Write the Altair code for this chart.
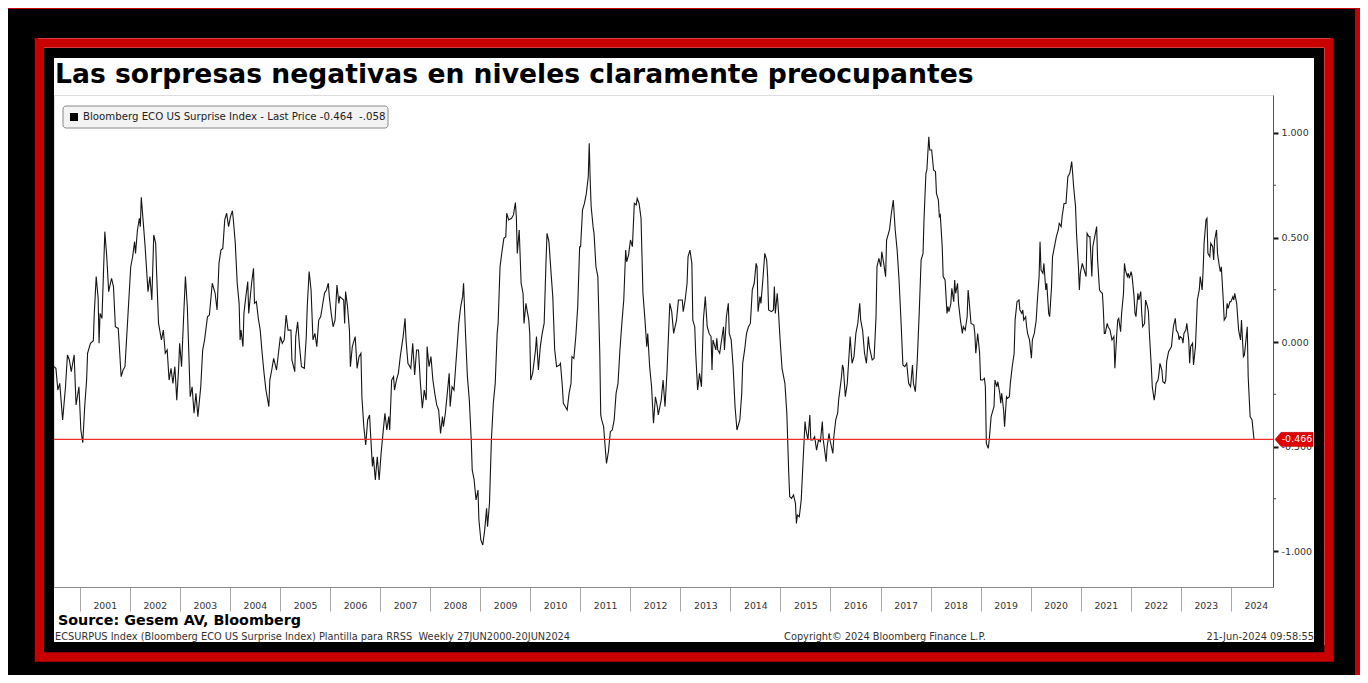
import altair as alt
import pandas as pd

# ---------------- text content ----------------
TITLE = "Las sorpresas negativas en niveles claramente preocupantes"
LEGEND = "Bloomberg ECO US Surprise Index - Last Price -0.464\u00a0\u00a0-.058"
SOURCE = "Source: Gesem AV, Bloomberg"
FOOT_LEFT = "ECSURPUS Index (Bloomberg ECO US Surprise Index) Plantilla para RRSS\u00a0\u00a0Weekly 27JUN2000-20JUN2024"
FOOT_MID = "Copyright\u00a9 2024 Bloomberg Finance L.P."
FOOT_RIGHT = "21-Jun-2024 09:58:55"

START_DATE = "2000-06-27"          # weekly series start
YEARS = list(range(2001, 2025))    # year bands on the x axis
Y_TICKS = [-1.0, -0.5, 0.0, 0.5, 1.0]
Y_MINOR = [-0.75, -0.25, 0.25, 0.75]
LAST_LEVEL = [-0.466]              # red reference line / tag

# ---------------- series: (week number since start, index value) ----------------
obs_2000_2004 = [(0,-0.118),(2,-0.126),(4,-0.230),(6,-0.198),(9,-0.373),(12,-0.214),(14,-0.062),(16,-0.086),
    (18,-0.142),(21,-0.062),(23,-0.301),(26,-0.214),(28,-0.421),(30,-0.482),(32,-0.309),(34,-0.182),(35,-0.054),
    (38,-0.006),(41,0.006),(42,0.137),(44,0.313),(46,0.209),(47,-0.006),(48,0.137),(50,0.113),(53,0.528),(55,0.408),
    (57,0.241),(60,0.305),(62,0.265),(64,0.073),(67,0.065),(70,-0.166),(72,-0.134),(74,-0.118),(77,0.121),(80,0.360),
    (82,0.408),(84,0.480),(85,0.424),(87,0.536),(89,0.592),(90,0.552),(91,0.692),(93,0.576),(95,0.456),(98,0.241),
    (100,0.313),(102,0.201),(104,0.512),(106,0.472),(107,0.329),(109,0.089),(112,0.010),(114,0.057),(116,-0.054),
    (118,-0.038),(120,-0.182),(122,-0.126),(124,-0.198),(126,-0.118),(128,-0.278),(130,-0.118),(131,-0.006),
    (133,-0.118),(135,0.105),(137,0.313),(139,0.169),(142,-0.262),(144,-0.214),(146,-0.341),(148,-0.246),
    (150,-0.357),(153,-0.214),(155,-0.038),(157,0.010),(160,0.121),(162,0.129),(165,0.281),(168,0.233),(170,0.153),
    (172,0.376),(174,0.440),(176,0.448),(178,0.584),(180,0.616),(182,0.552)]

obs_2004_2007 = [(184,0.600),(186,0.628),(187,0.584),(189,0.472),(191,0.281),(193,0.185),(194,0.010),(195,0.057),
    (197,-0.022),(198,0.137),(200,0.217),(202,0.289),(203,0.137),(205,0.233),(206,0.281),(208,0.352),(209,0.185),
    (211,0.193),(213,0.113),(215,0.057),(217,-0.054),(219,-0.150),(221,-0.230),(224,-0.309),(225,-0.182),(227,-0.134),
    (229,-0.078),(232,-0.134),(234,-0.054),(236,0.026),(238,-0.006),(240,0.010),(242,0.129),(244,0.057),(247,0.057),
    (248,-0.086),(251,-0.142),(252,0.026),(254,0.097),(256,-0.022),(258,-0.118),(261,-0.126),(263,0.026),(264,0.169),
    (266,0.337),(268,0.249),(270,0.010),(272,0.041),(274,-0.022),(276,0.105),(278,0.121),(280,0.177),(282,0.233),
    (284,0.249),(286,0.281),(287,0.217),(289,0.137),(291,0.073),(293,0.105),(295,0.273),(297,0.185),(298,0.217),
    (300,0.209),(302,0.201),(303,0.089),(304,0.241),(306,0.169),(308,0.057),(309,-0.118),(311,-0.022),(314,0.026),
    (316,-0.126),(318,-0.070),(320,-0.054),(321,-0.262),(323,-0.405),(325,-0.493),(327,-0.373),(329,-0.349),
    (330,-0.437),(332,-0.596),(333,-0.549),(335,-0.660),(337,-0.549),(339,-0.660),(341,-0.533),(343,-0.437),
    (345,-0.341),(347,-0.421),(349,-0.357),(350,-0.421),(352,-0.182),(354,-0.166),(355,-0.230),(357,-0.182),
    (359,-0.150),(361,-0.070),(364,0.026),(366,0.113)]

obs_2007_2011 = [(367,0.010),(369,-0.102),(372,-0.126),(374,-0.006),(376,-0.158),(378,-0.038),(380,-0.038),
    (382,-0.198),(384,-0.317),(386,-0.230),(388,-0.278),(389,-0.022),(391,-0.118),(393,-0.070),(395,-0.182),
    (397,-0.246),(399,-0.301),(401,-0.325),(403,-0.437),(405,-0.357),(406,-0.405),(408,-0.341),(410,-0.246),
    (412,-0.150),(413,-0.309),(415,-0.214),(417,-0.230),(420,-0.038),(422,0.089),(424,0.169),(426,0.217),(427,0.281),
    (429,0.041),(431,-0.166),(433,-0.278),(435,-0.469),(436,-0.612),(438,-0.660),(440,-0.756),(442,-0.708),
    (443,-0.852),(445,-0.947),(447,-0.971),(449,-0.900),(451,-0.796),(452,-0.884),(454,-0.772),(456,-0.469),
    (458,-0.293),(460,-0.198),(462,0.041),(463,0.089),(465,0.360),(467,0.432),(469,0.496),(471,0.504),(472,0.616),
    (474,0.584),(477,0.592),(479,0.608),(481,0.667),(482,0.600),(483,0.424),(485,0.536),(487,0.281),(489,0.233),
    (490,0.089),(492,0.185),(495,0.105),(496,0.041),(497,-0.182),(499,-0.150),(502,-0.038),(503,0.026),(505,-0.134),
    (507,-0.022),(509,0.041),(511,0.089),(513,0.392),(514,0.520),(516,0.480),(518,0.344),(520,0.217),(522,-0.038),
    (524,-0.118),(527,-0.110),(528,-0.102),(530,-0.214),(531,-0.293),(533,-0.309),(535,-0.325),(537,-0.246),
    (539,-0.198),(540,-0.070),(542,-0.078),(544,0.026),(546,0.169),(548,0.456)]

obs_2011_2014 = [(549,0.456),(551,0.632),(553,0.663),(555,0.711),(557,0.791),(558,0.951),(559,0.775),(560,0.648),
    (562,0.552),(563,0.520),(565,0.360),(567,0.313),(569,-0.054),(570,-0.349),(571,-0.373),(573,-0.405),(575,-0.525),
    (576,-0.581),(578,-0.525),(580,-0.429),(582,-0.421),(584,-0.373),(586,-0.246),(588,-0.198),(590,-0.038),
    (592,0.089),(594,0.201),(596,0.440),(597,0.384),(599,0.416),(601,0.488),(603,0.456),(605,0.663),(607,0.656),
    (608,0.687),(610,0.663),(612,0.592),(614,0.233),(616,0.113),(618,-0.022),(619,0.041),(621,-0.118),(623,-0.214),
    (625,-0.389),(627,-0.262),(629,-0.309),(630,-0.349),(633,-0.278),(635,-0.182),(637,-0.309),(639,-0.150),
    (641,0.073),(642,0.185),(644,0.145),(646,0.041),(649,0.105),(651,0.201),(653,0.201),(655,0.201),(656,0.145),
    (658,0.201),(660,0.281),(661,0.408),(663,0.440),(665,0.376),(666,0.105),(668,0.073),(669,-0.054),(671,-0.230),
    (673,-0.150),(675,-0.214),(677,0.105),(679,0.217),(681,0.073),(683,0.041),(685,0.026),(686,-0.134),(687,0.010),
    (690,-0.038),(691,0.018),(692,-0.038),(694,-0.054),(696,0.010),(698,0.073),(699,-0.038),(701,0.121),(703,0.185),
    (704,0.041),(706,0.010),(708,-0.118),(710,-0.309),(712,-0.421),(715,-0.373),(717,-0.246),(718,-0.102),
    (720,-0.038),(722,0.041),(724,0.073),(726,0.089),(728,0.249),(730,0.281)]

obs_2014_2018 = [(732,0.376),(733,0.360),(734,0.145),(736,0.217),(737,0.185),(739,0.297),(741,0.424),(743,0.392),
    (744,0.313),(745,0.153),(748,0.145),(750,0.153),(751,0.265),(752,0.137),(754,0.233),(755,0.169),(757,0.010),
    (759,-0.126),(762,-0.198),(764,-0.341),(766,-0.628),(767,-0.740),(769,-0.748),(771,-0.732),(773,-0.772),
    (774,-0.868),(775,-0.828),(777,-0.836),(779,-0.756),(781,-0.565),(783,-0.381),(784,-0.421),(786,-0.469),
    (788,-0.349),(789,-0.469),(791,-0.469),(793,-0.453),(795,-0.517),(797,-0.469),(799,-0.477),(801,-0.381),
    (802,-0.469),(805,-0.573),(806,-0.501),(808,-0.437),(809,-0.469),(812,-0.533),(813,-0.453),(815,-0.373),
    (817,-0.341),(818,-0.278),(821,-0.166),(822,-0.110),(823,-0.126),(825,-0.262),(827,-0.198),(829,-0.054),
    (830,0.026),(832,-0.102),(834,-0.070),(836,0.041),(838,0.089),(840,0.185),(841,0.105),(843,0.057),(845,-0.054),
    (847,-0.102),(849,0.026),(850,-0.022),(853,-0.086),(855,-0.078),(857,0.121),(858,0.360),(860,0.400),(862,0.360),
    (863,0.432),(865,0.376),(867,0.313),(868,0.488),(871,0.536),(873,0.616),(875,0.679),(877,0.536),(879,0.440),
    (881,0.297),(883,0.105),(885,-0.110),(887,-0.118),(889,-0.102),(891,-0.198),(893,-0.214),(895,-0.110),
    (896,-0.198),(898,-0.238),(900,-0.086),(902,0.137),(904,0.392),(906,0.424),(907,0.584),(909,0.807),(910,0.823),
    (912,0.982),(913,0.919)]

obs_2018_2021 = [(915,0.919),(916,0.871),(917,0.823),(919,0.815),(920,0.711),(922,0.679),(923,0.600),(924,0.608),
    (926,0.456),(927,0.313),(929,0.297),(931,0.137),(932,0.169),(933,0.145),(935,0.185),(936,0.257),(938,0.193),
    (939,0.297),(940,0.233),(942,0.281),(943,0.185),(945,0.105),(947,0.041),(948,0.073),(950,0.057),(952,0.121),
    (953,0.249),(954,0.201),(956,0.089),(959,0.081),(960,0.041),(961,-0.054),(963,0.041),(965,-0.054),(966,-0.182),
    (968,-0.182),(970,-0.174),(971,-0.214),(972,-0.485),(974,-0.509),(975,-0.469),(977,-0.357),(979,-0.325),
    (980,-0.309),(981,-0.182),(983,-0.214),(984,-0.190),(986,-0.246),(987,-0.293),(988,-0.246),(990,-0.325),
    (991,-0.405),(993,-0.262),(994,-0.270),(996,-0.262),(997,-0.198),(999,-0.118),(1001,-0.054),(1002,0.105),
    (1004,0.193),(1006,0.201),(1007,0.153),(1009,0.137),(1010,0.153),(1011,0.105),(1013,0.121),(1014,0.073),
    (1015,0.041),(1017,0.010),(1019,-0.078),(1020,0.010),(1022,0.041),(1024,0.105),(1025,0.185),(1027,0.313),
    (1028,0.480),(1029,0.344),(1031,0.329),(1032,0.376),(1034,0.249),(1035,0.281),(1037,0.137),(1038,0.121),
    (1040,0.265),(1041,0.408),(1043,0.456),(1045,0.504),(1047,0.536),(1048,0.568),(1050,0.552),(1051,0.600),
    (1053,0.663),(1055,0.663),(1057,0.791),(1059,0.807),(1061,0.863),(1062,0.807),(1063,0.743),(1065,0.648),
    (1066,0.520),(1068,0.360),(1069,0.249),(1070,0.329),(1072,0.376),(1073,0.360),(1075,0.329),(1076,0.313),
    (1077,0.520),(1079,0.504),(1080,0.504),(1082,0.313),(1083,0.456),(1085,0.504),(1087,0.552),(1088,0.392),
    (1090,0.249),(1091,0.241),(1093,0.233),(1094,0.153),(1095,0.041)]

obs_2021_2024 = [(1096,0.041),(1098,0.089),(1099,0.073),(1101,0.057),(1102,0.033),(1103,0.010),(1105,0.026),
    (1106,-0.126),(1108,0.041),(1109,0.105),(1110,0.113),(1112,0.049),(1113,0.137),(1115,0.233),(1116,0.376),
    (1117,0.344),(1119,0.313),(1120,0.329),(1121,0.305),(1123,0.337),(1124,0.313),(1126,0.217),(1127,0.137),
    (1128,0.121),(1130,0.233),(1131,0.201),(1133,0.241),(1134,0.137),(1135,0.073),(1137,0.089),(1138,0.201),
    (1140,0.169),(1141,0.145),(1142,0.041),(1144,-0.118),(1145,-0.214),(1147,-0.278),(1148,-0.246),(1149,-0.198),
    (1151,-0.182),(1152,-0.150),(1153,-0.102),(1155,-0.134),(1156,-0.190),(1158,-0.198),(1159,-0.182),(1160,-0.094),
    (1162,-0.046),(1165,-0.022),(1166,0.026),(1167,0.073),(1169,0.113),(1170,0.057),(1172,0.041),(1173,0.010),
    (1174,0.026),(1176,0.018),(1177,-0.006),(1178,0.041),(1180,0.057),(1181,0.089),(1183,0.010),(1184,-0.102),
    (1185,-0.022),(1187,-0.006),(1188,-0.110),(1190,-0.022),(1191,0.089),(1192,0.201),(1194,0.249),(1195,0.313),
    (1197,0.249),(1198,0.344),(1199,0.472),(1201,0.584),(1202,0.592),(1203,0.424),(1205,0.408),(1206,0.472),
    (1208,0.456),(1209,0.392),(1210,0.488),(1212,0.536),(1213,0.424),(1215,0.360),(1216,0.337),(1217,0.360),
    (1219,0.201),(1220,0.105),(1222,0.121),(1223,0.185),(1224,0.161),(1226,0.193),(1227,0.193),(1229,0.217),
    (1230,0.201),(1231,0.233),(1233,0.185),(1234,0.121),(1235,0.057),(1237,0.010),(1238,0.105),(1240,-0.070),
    (1241,-0.062),(1242,-0.022),(1244,0.073),(1245,-0.166),(1247,-0.357),(1248,-0.365),(1249,-0.373),(1251,-0.464)]

# ---------------- build table ----------------
obs = (obs_2000_2004 + obs_2004_2007 + obs_2007_2011 + obs_2011_2014
       + obs_2014_2018 + obs_2018_2021 + obs_2021_2024)
start = pd.Timestamp(START_DATE)
series = pd.DataFrame({
    "date": [(start + pd.Timedelta(days=7 * w)).strftime("%Y-%m-%d") for w, _ in obs],
    "value": [v for _, v in obs],
})

# ---------------- styling ----------------
FONT = "DejaVu Sans"
RED = "#c80000"
W, H = 1219, 492

X_SCALE = alt.Scale(type="utc", domain=[alt.DateTime(year=2000, month=6, date=27, utc=True),
                                        alt.DateTime(year=2024, month=11, date=4, utc=True)])
Y_SCALE = alt.Scale(domain=[-1.1722, 1.1818], nice=False, zero=False)

X_AXIS = alt.Axis(
    values=[alt.DateTime(year=y, month=1, date=1, utc=True) for y in YEARS],
    labelExpr="utcFormat(datum.value, '%Y')", title=None, grid=False,
    tickSize=24, tickColor="#a8a8a8", tickWidth=1, domainColor="#8a8a8a", domainWidth=1,
    labelAlign="center", labelOffset=25, labelPadding=-10, labelFontSize=9.3,
    labelColor="#333333", labelFont=FONT, labelOverlap=False, labelFlush=False)

Y_AXIS = alt.Axis(
    orient="right", values=Y_TICKS, title=None, grid=False,
    labelExpr="replace(format(datum.value, '.3f'), '\u2212', '-')",
    tickSize=5, tickWidth=2, tickColor="#111111", domainColor="#555555", domainWidth=1,
    labelPadding=3, labelFontSize=9.5, labelColor="#333333", labelFont=FONT,
    labelOverlap=False, labelFlush=False)


def y_enc(field):
    return alt.Y(f"{field}:Q", scale=Y_SCALE, axis=Y_AXIS)


one = pd.DataFrame({"k": [0]})


def ring(x, x2, y, y2, color, width):
    return alt.Chart(one).mark_rect(fillOpacity=0, stroke=color, strokeWidth=width).encode(
        x=alt.value(x), x2=alt.value(x2), y=alt.value(y), y2=alt.value(y2))


def block(x, x2, y, y2, color, **kw):
    return alt.Chart(one).mark_rect(color=color, **kw).encode(
        x=alt.value(x), x2=alt.value(x2), y=alt.value(y), y2=alt.value(y2))


def label(txt, x, y, **kw):
    return alt.Chart(pd.DataFrame({"txt": [txt]})).mark_text(font=FONT, **kw).encode(
        x=alt.value(x), y=alt.value(y), text="txt:N")


# frame (black / red borders around the white panel)
frames = [
    ring(-46, 1306, -87, 580, "black", 60),
    ring(-14.5, 1275, -52, 562, RED, 9.5),
    ring(-5, 1265, -42, 552, "black", 10),
    block(1301, 1306, -87, 580, RED),
    block(-46, 1306, -87, -86, RED),
]

line = alt.Chart(series).mark_line(color="#151515", strokeWidth=1.1).encode(
    x=alt.X("date:T", scale=X_SCALE, axis=X_AXIS),
    y=y_enc("value"),
)

minor = alt.Chart(pd.DataFrame({"m": Y_MINOR})).mark_rule(color="#444444", strokeWidth=1).encode(
    y=y_enc("m"), x=alt.value(W), x2=alt.value(W + 3))

level_df = pd.DataFrame({"lv": LAST_LEVEL})
red_rule = alt.Chart(level_df).mark_rule(stroke="#f03030", strokeWidth=1.4, opacity=1).encode(
    y=y_enc("lv"), x=alt.value(0), x2=alt.value(W))

TAG_PATH = "M -1 0 L -0.68 -0.37 L 1 -0.37 L 1 0.37 L -0.68 0.37 Z"
tag = alt.Chart(level_df).mark_point(shape=TAG_PATH, size=1444, filled=True, fill="#e00000",
                                     opacity=1, stroke="#b00000", strokeWidth=0.5).encode(
    y=y_enc("lv"), x=alt.value(1240))
tag_text = alt.Chart(level_df).transform_calculate(
    t="replace(format(datum.lv, '.3f'), '\u2212', '-')"
).mark_text(font=FONT, fontSize=9.5, color="white", align="center", baseline="middle").encode(
    y=y_enc("lv"), x=alt.value(1243), text="t:N")

legend_box = block(9, 334, 11, 33, "#f3f3f3", stroke="#8a8a8a", strokeWidth=1, cornerRadius=3)
legend_sq = block(16, 24, 18, 26, "#000000")
legend_txt = label(LEGEND, 29, 22, fontSize=10.2, color="#222222", align="left", baseline="middle")

title = label(TITLE, 1, -12, fontSize=26.6, fontWeight="bold", color="#000000",
              align="left", baseline="alphabetic")
source = label(SOURCE, 4, 530, fontSize=14.3, fontWeight="bold", color="#000000",
               align="left", baseline="alphabetic")
foot_l = label(FOOT_LEFT, 1, 545, fontSize=9.8, color="#333333", align="left", baseline="alphabetic")
foot_m = label(FOOT_MID, 831, 545, fontSize=9.8, color="#333333", align="center", baseline="alphabetic")
foot_r = label(FOOT_RIGHT, 1260, 545, fontSize=9.8, color="#333333", align="right", baseline="alphabetic")

chart = alt.layer(
    *frames, legend_box, legend_sq, legend_txt, line, minor, red_rule, tag, tag_text,
    title, source, foot_l, foot_m, foot_r,
).properties(
    width=W, height=H,
    padding={"left": 46, "top": 87, "right": 87, "bottom": 88},
    autosize=alt.AutoSizeParams(type="none"),
    background="white",
).configure_view(strokeWidth=0).configure(font=FONT)

chart.save("out.html", embed_options={"renderer": "svg", "actions": False})
